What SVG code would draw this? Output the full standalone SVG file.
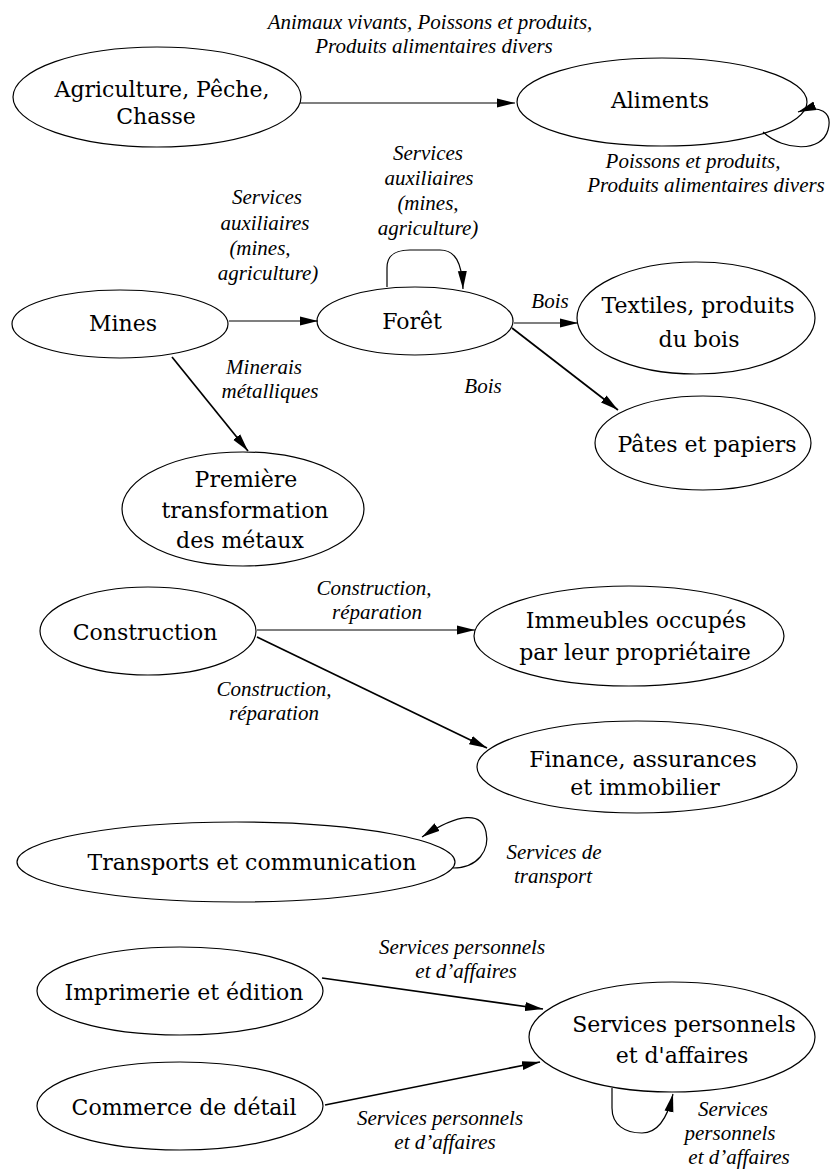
<svg xmlns="http://www.w3.org/2000/svg" width="831" height="1172" viewBox="0 0 831 1172">
<style>
.n ellipse{fill:none;stroke:#000;stroke-width:1.2}
.n text{font-family:"DejaVu Serif","Liberation Serif",serif;font-size:22px;text-anchor:middle;fill:#000}
.lbl text{font-family:"Liberation Serif",serif;font-style:italic;font-size:21px;text-anchor:middle;fill:#000}
.e{fill:none;stroke:#000;stroke-width:1.2;marker-end:url(#ah)}
.d{stroke-width:1.7}
</style>
<defs>
<marker id="ah" markerUnits="userSpaceOnUse" markerWidth="18" markerHeight="10" refX="18" refY="5" orient="auto">
<path d="M0,0.5 L18,5 L0,9.5 z" fill="#000"/>
</marker>
</defs>
<g id="connectors">
<path class="e" d="M300,103 L515,103"/>
<path class="e" d="M763,132 C785,152 822,152 828,130 C833,112 820,104 798,112"/>
<path class="e" d="M229,321 L318,321"/>
<path class="e" d="M387,287 L387,268 C387,255 395,250 410,250 L440,250 C455,250 462,262 463,289"/>
<path class="e" d="M514,323 L578,323"/>
<path class="e d" d="M512,328 L618,410"/>
<path class="e d" d="M172,357 L248,451"/>
<path class="e" d="M257,630 L475,630"/>
<path class="e d" d="M257,637 L487,748"/>
<path class="e" d="M453,868 C478,868 490,850 486,832 C482,812 460,812 422,837"/>
<path class="e d" d="M322,978 L543,1009"/>
<path class="e d" d="M325,1105 L540,1062"/>
<path class="e" d="M612,1088 L612,1108 C612,1125 625,1133 642,1133 C657,1133 667,1120 673,1094"/>
</g>
<g class="lbl" id="labels">
<text x="430" y="29">Animaux vivants, Poissons et produits,</text>
<text x="434" y="53">Produits alimentaires divers</text>
<text x="693" y="168">Poissons et produits,</text>
<text x="706" y="192">Produits alimentaires divers</text>
<text x="267" y="204">Services</text>
<text x="265" y="230">auxiliaires</text>
<text x="260" y="255">(mines,</text>
<text x="268" y="280">agriculture)</text>
<text x="428" y="160">Services</text>
<text x="429" y="185">auxiliaires</text>
<text x="428" y="210">(mines,</text>
<text x="428" y="235">agriculture)</text>
<text x="550" y="308">Bois</text>
<text x="264" y="374">Minerais</text>
<text x="270" y="398">métalliques</text>
<text x="483" y="393">Bois</text>
<text x="374" y="595">Construction,</text>
<text x="377" y="619">réparation</text>
<text x="274" y="696">Construction,</text>
<text x="274" y="720">réparation</text>
<text x="554" y="859">Services de</text>
<text x="553" y="883">transport</text>
<text x="462" y="954">Services personnels</text>
<text x="466" y="978">et d’affaires</text>
<text x="440" y="1125">Services personnels</text>
<text x="445" y="1149">et d’affaires</text>
<text x="733" y="1116">Services</text>
<text x="730" y="1140">personnels</text>
<text x="739" y="1164">et d’affaires</text>
</g>
<g class="n" id="agriculture"><ellipse cx="157" cy="97" rx="144" ry="50"/><text x="162" y="97">Agriculture, Pêche,</text><text x="156" y="124">Chasse</text></g>
<g class="n" id="aliments"><ellipse cx="662" cy="102" rx="145" ry="44"/><text x="660" y="108">Aliments</text></g>
<g class="n" id="mines"><ellipse cx="120" cy="324" rx="108" ry="34"/><text x="123" y="331">Mines</text></g>
<g class="n" id="foret"><ellipse cx="415" cy="321" rx="98" ry="34"/><text x="412" y="329">Forêt</text></g>
<g class="n" id="textiles"><ellipse cx="696" cy="318" rx="119" ry="56"/><text x="698" y="313">Textiles, produits</text><text x="699" y="347">du bois</text></g>
<g class="n" id="pates"><ellipse cx="703" cy="443" rx="108" ry="47"/><text x="707" y="452">Pâtes et papiers</text></g>
<g class="n" id="premiere"><ellipse cx="243" cy="509" rx="121" ry="57"/><text x="246" y="487">Première</text><text x="245" y="518">transformation</text><text x="240" y="548">des métaux</text></g>
<g class="n" id="construction"><ellipse cx="148" cy="631" rx="108" ry="44"/><text x="145" y="640">Construction</text></g>
<g class="n" id="immeubles"><ellipse cx="629" cy="636" rx="155" ry="50"/><text x="636" y="628">Immeubles occupés</text><text x="635" y="660">par leur propriétaire</text></g>
<g class="n" id="finance"><ellipse cx="637" cy="767" rx="160" ry="46"/><text x="643" y="767">Finance, assurances</text><text x="645" y="795">et immobilier</text></g>
<g class="n" id="transports"><ellipse cx="236" cy="862" rx="219" ry="40"/><text x="252" y="870">Transports et communication</text></g>
<g class="n" id="imprimerie"><ellipse cx="180" cy="991" rx="143" ry="44"/><text x="184" y="1000">Imprimerie et édition</text></g>
<g class="n" id="commerce"><ellipse cx="180" cy="1106" rx="143" ry="44"/><text x="184" y="1115">Commerce de détail</text></g>
<g class="n" id="services"><ellipse cx="672" cy="1037" rx="143" ry="55"/><text x="684" y="1032">Services personnels</text><text x="682" y="1063">et d'affaires</text></g>
</svg>
